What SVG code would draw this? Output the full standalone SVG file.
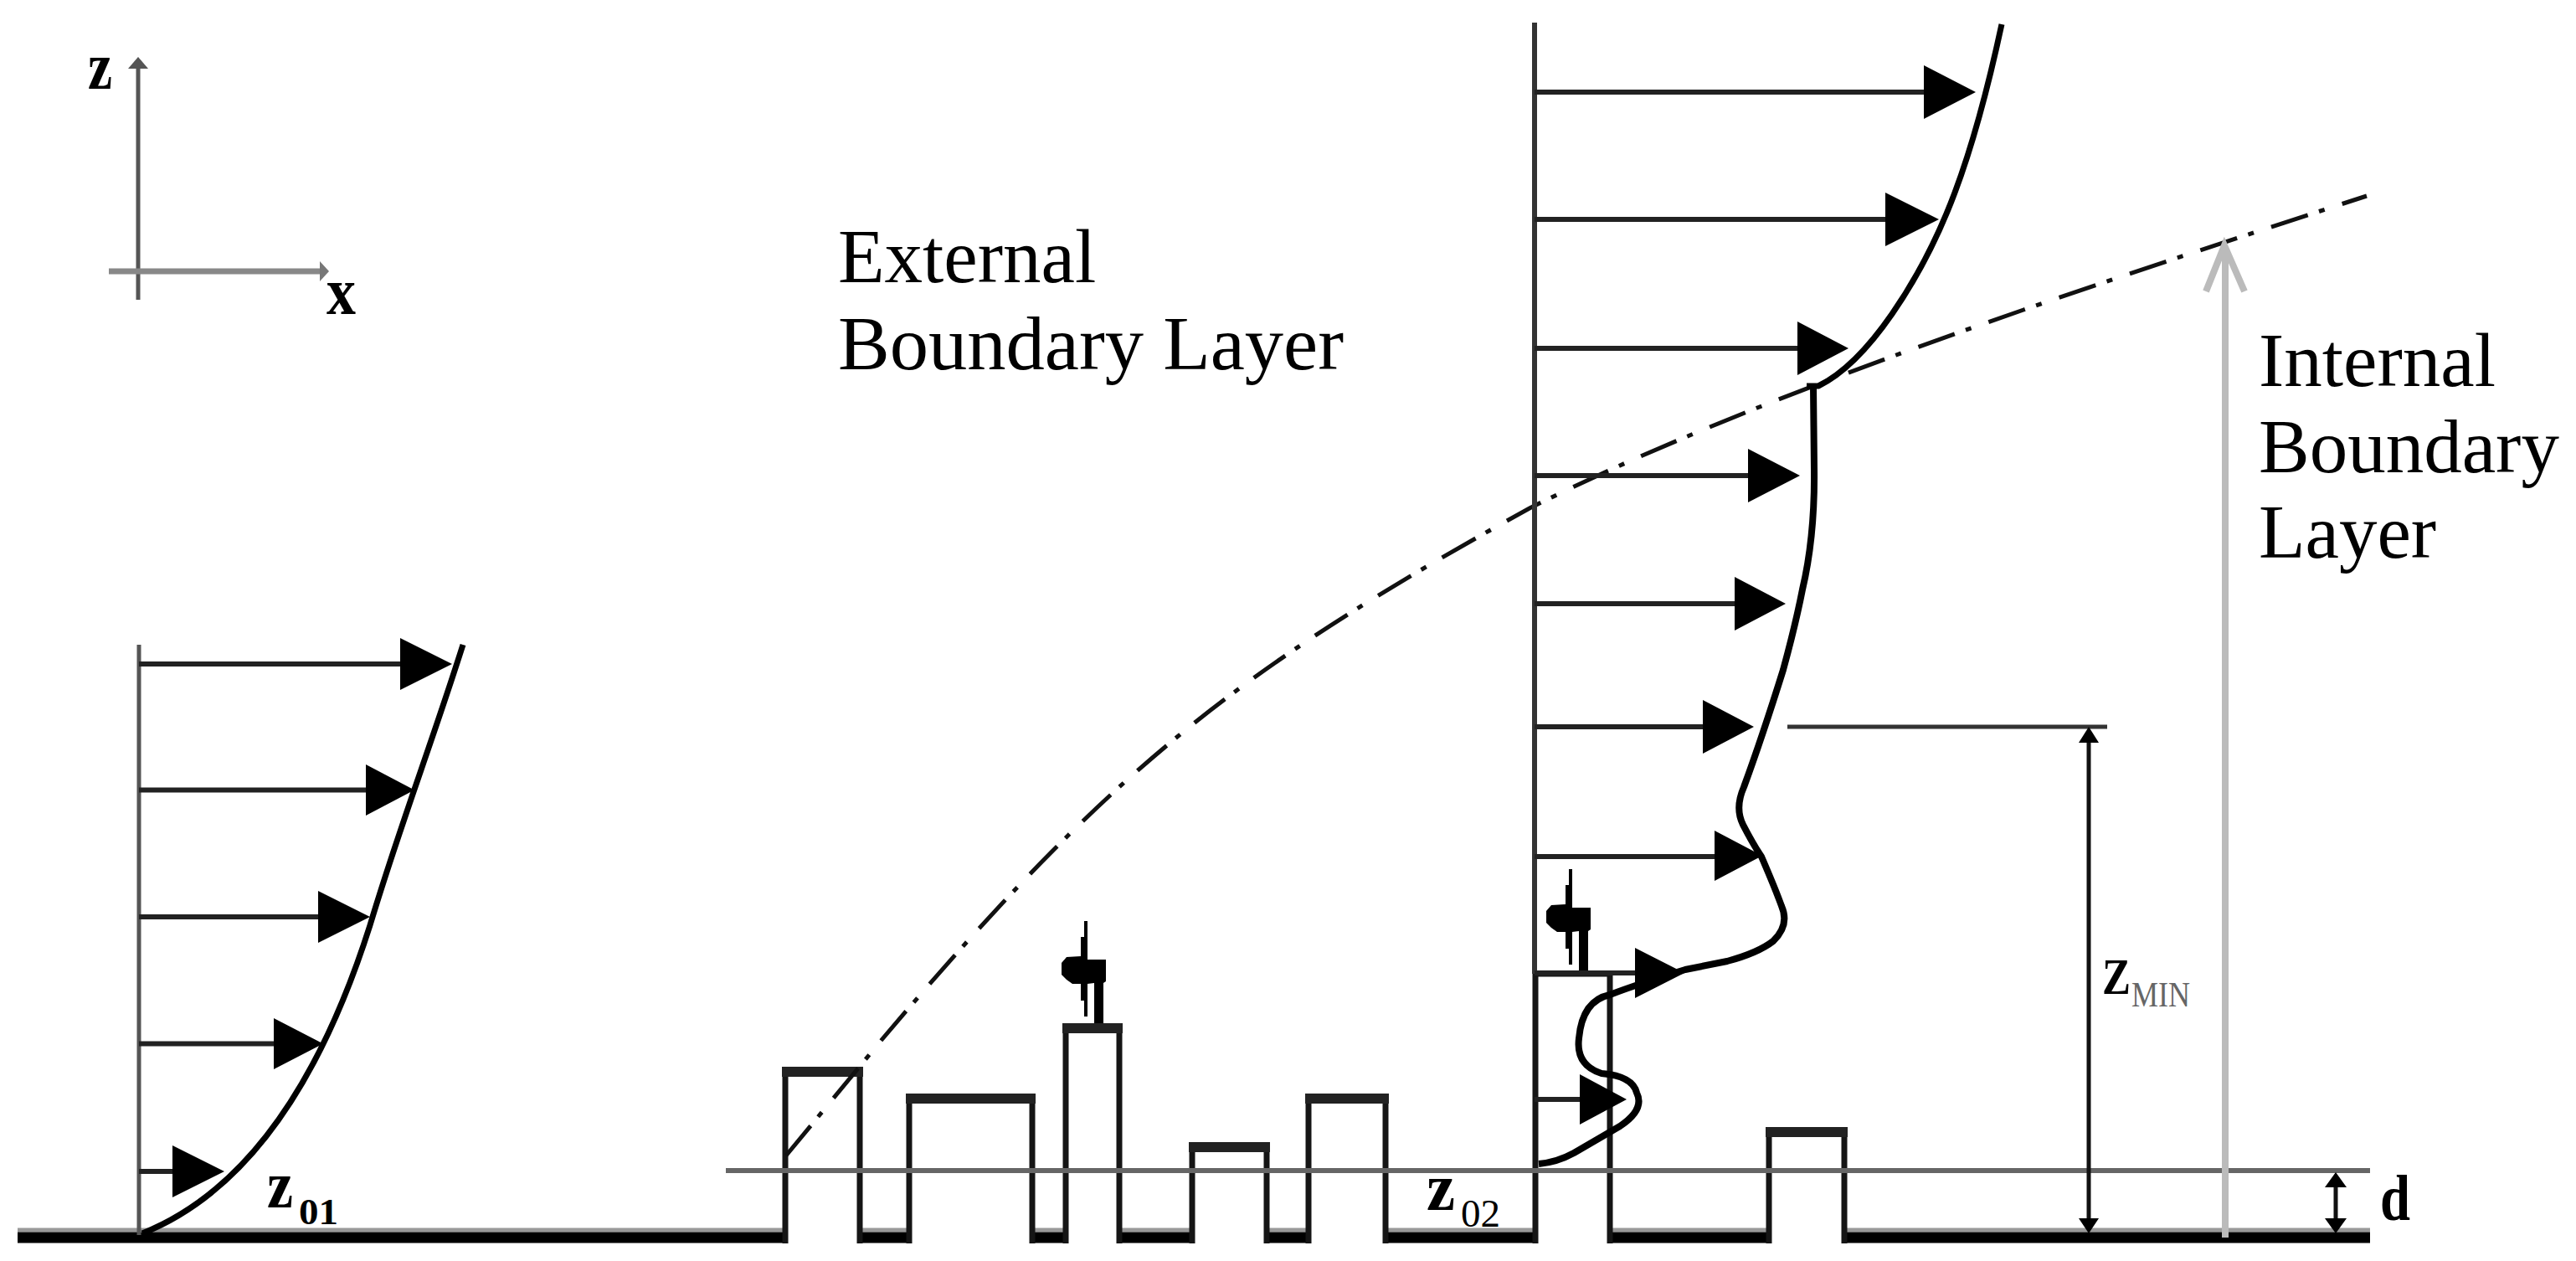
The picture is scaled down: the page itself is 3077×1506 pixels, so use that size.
<svg xmlns="http://www.w3.org/2000/svg" width="3077" height="1506" viewBox="0 0 3077 1506">
<style>
text{font-family:"Liberation Serif","Times New Roman",serif;fill:#000}
.lab{font-size:91px}
.b{font-weight:bold}
.sh{fill:none;stroke:#222;stroke-width:6}
.ax{fill:none;stroke:#555;stroke-width:5}
.prof{fill:none;stroke:#000;stroke-width:7;stroke-linejoin:round;stroke-linecap:butt}
.head{fill:#000}
.wall{fill:none;stroke:#151515;stroke-width:7}
.top{fill:none;stroke:#222;stroke-width:12}
</style>
<defs>
<g id="turbine">
<polygon points="1874,1038 1878,1038 1878,1084 1900,1084 1900,1110 1897,1112 1897,1160 1886,1160 1886,1112 1878,1113 1878,1152 1874,1152 1874,1133 1870,1133 1870,1113 1860,1113 1853,1108 1847,1102 1847,1088 1853,1081 1870,1080 1870,1057 1874,1057" fill="#000"/>
</g>
</defs>
<rect width="3077" height="1506" fill="#fff"/>

<g id="axes">
<path class="ax" d="M165 78V358"/>
<path class="ax" style="stroke:#888;stroke-width:7" d="M130 324H385"/>
<polygon points="165,68 177,82 153,82" fill="#555"/>
<polygon points="382,312 393,324 382,336" fill="#777"/>
<text class="b" x="105" y="106" font-size="80" textLength="29" lengthAdjust="spacingAndGlyphs">z</text>
<text class="b" x="390" y="375" font-size="80" textLength="35" lengthAdjust="spacingAndGlyphs">x</text>
</g>

<g id="ground">
<path fill="none" stroke="#999" stroke-width="5" d="M21 1469H938M1027 1469H1086M1233 1469H1273M1337 1469H1424M1513 1469H1563M1655 1469H1834M1923 1469H2113M2203 1469H2831"/>
<path fill="none" stroke="#000" stroke-width="13" d="M21 1478H941M1024 1478H1089M1230 1478H1276M1334 1478H1427M1510 1478H1566M1652 1478H1837M1920 1478H2116M2200 1478H2831"/>
</g>

<g id="buildings">
<path class="wall" d="M938 1485V1280H1027V1485M1086 1485V1312H1233V1485M1273 1485V1228H1337V1485M1424 1485V1370H1513V1485M1563 1485V1312H1655V1485M1834 1485V1163H1923V1485M2113 1485V1352H2203V1485"/>
<path class="top" d="M934 1280H1031M1082 1312H1237M1269 1228H1341M1420 1370H1517M1559 1312H1659M2109 1352H2207"/>
</g>

<g id="turbines">
<use href="#turbine"/>
<use href="#turbine" transform="translate(-579 62)"/>
</g>

<g id="connectors">
<path fill="none" stroke="#666" stroke-width="6" d="M867 1398H2831"/>
<path fill="none" stroke="#111" stroke-width="5" stroke-dasharray="46 14 7 22" d="M939 1380L1053 1242C1325 921 1475 801 1827 607C2100 470 2500 340 2827 234"/>
<path fill="none" stroke="#bbb" stroke-width="8" d="M2658 1478V296M2635 348L2657 293L2681 348"/>
<path fill="none" stroke="#333" stroke-width="5" d="M2135 868H2517"/>
<path fill="none" stroke="#111" stroke-width="5" d="M2495 880V1460M2790 1412V1460"/>
<path class="head" d="M2495 868L2507 887H2483ZM2495 1473L2483 1455H2507ZM2790 1400L2803 1418H2777ZM2790 1473L2777 1455H2803Z"/>
</g>

<g id="profile-left">
<path fill="none" stroke="#555" stroke-width="5" d="M166 770V1475"/>
<path class="sh" d="M166 793H480M166 943.5H440M166 1095H385M166 1246.5H330M166 1399H210"/>
<path class="head" d="M478 762L540 793L478 824ZM437 913L495 943.5L437 974ZM380 1064L442 1095L380 1126ZM327 1216L386 1246.5L327 1277ZM206 1368L268 1399L206 1430Z"/>
<path class="prof" d="M170 1473C290 1425 380 1300 442 1105C478 985 515 890 553 770"/>
<text class="b" x="319" y="1442" font-size="80" textLength="31" lengthAdjust="spacingAndGlyphs">z</text>
<text class="b" x="357" y="1462" font-size="44" textLength="47" lengthAdjust="spacingAndGlyphs">01</text>
</g>

<g id="profile-right">
<path fill="none" stroke="#333" stroke-width="6" d="M1833 27V1163"/>
<path class="sh" d="M1833 110H2300M1833 262H2255M1833 416H2150M1833 568H2090M1833 721H2075M1833 868H2036M1833 1023H2050M1833 1162H1955M1833 1313H1890"/>
<path class="head" d="M2298 78L2360 110L2298 142ZM2252 230L2316 262L2252 294ZM2147 384L2208 416L2147 448ZM2088 536L2150 568L2088 600ZM2072 689L2133 721L2072 753ZM2034 836L2095 868L2034 900ZM2048 992L2105 1022L2048 1052ZM1953 1132L2012 1162L1953 1192ZM1887 1283L1943 1313L1887 1343Z"/>
<path class="prof" d="M2158 461H2172Q2215 440 2260 375Q2305 310 2335 230Q2365 150 2391 29"/>
<path class="prof" style="stroke-width:8" d="M2166 461L2167 560Q2168 640 2153 704Q2145 745 2130 800Q2105 880 2083 940Q2072 965 2082 985Q2095 1010 2104 1023Q2120 1060 2128 1082Q2138 1105 2118 1124Q2100 1138 2063 1148L2013 1158Q1957 1175 1923 1188Q1890 1195 1886 1240Q1882 1272 1913 1282Q1950 1285 1955 1305Q1965 1325 1935 1345L1880 1377Q1860 1388 1838 1390"/>
<text x="1704" y="1445" font-size="80" textLength="34" lengthAdjust="spacingAndGlyphs" class="b">z</text>
<text x="1745" y="1465" font-size="46" textLength="47" lengthAdjust="spacingAndGlyphs">02</text>
</g>

<g id="label-external"><text class="lab" x="1001" y="337">External</text><text class="lab" x="1001" y="441" textLength="604" lengthAdjust="spacingAndGlyphs">Boundary Layer</text></g>
<g id="label-internal"><text class="lab" x="2698" y="461">Internal</text><text class="lab" x="2698" y="564">Boundary</text><text class="lab" x="2698" y="666">Layer</text></g>
<g id="label-zmin"><text class="b" x="2511" y="1187" font-size="62" textLength="34" lengthAdjust="spacingAndGlyphs">Z</text><text x="2546" y="1202" font-size="42" style="fill:#666" textLength="70" lengthAdjust="spacingAndGlyphs">MIN</text></g>
<g id="label-d"><text class="b" x="2843" y="1457" font-size="78" textLength="36" lengthAdjust="spacingAndGlyphs">d</text></g>
</svg>
